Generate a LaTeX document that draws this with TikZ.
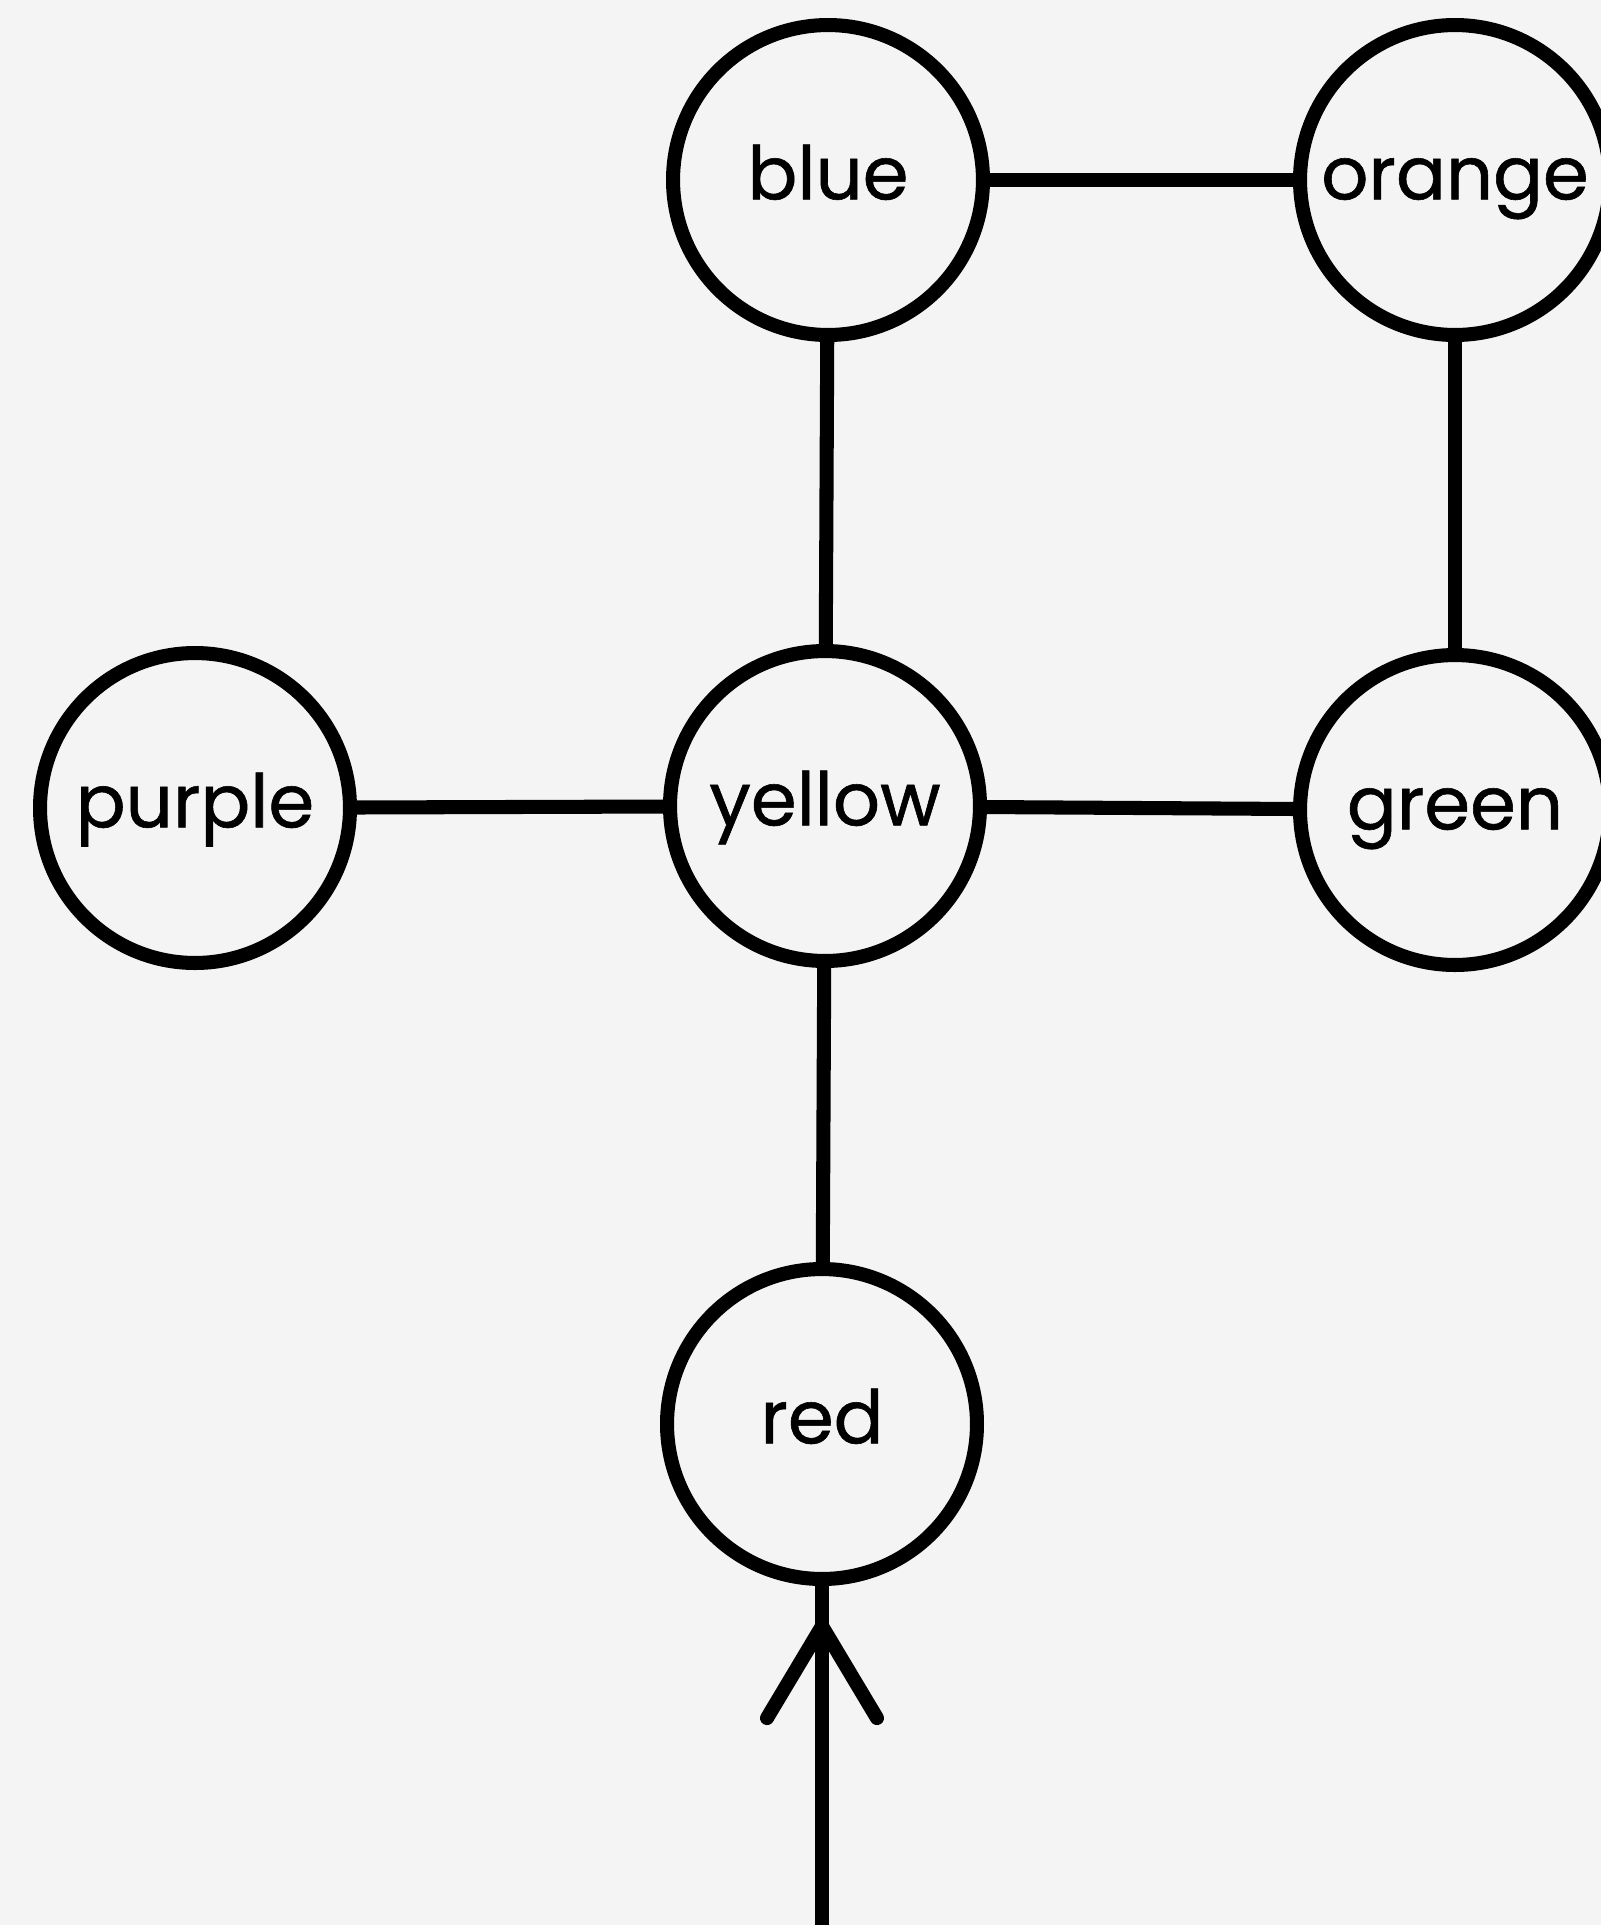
\documentclass[tikz,border=0pt]{standalone}
\usepackage{fontspec}
\setmainfont{Poppins}
\newfontfamily\labelfont{Poppins}[FakeBold=0.8]
\usetikzlibrary{decorations.markings}
\definecolor{paper}{RGB}{244,244,244}
\begin{document}
\begin{tikzpicture}[x=0.02cm,y=-0.02cm,
  vertex/.style={circle,draw=black,line width=8pt,minimum size=6.2cm,inner sep=0pt,
    font=\labelfont\fontsize{42}{50}\selectfont,text height=22pt,text depth=0pt},
  link/.style={line width=8pt},
  entry/.style={line width=8pt,postaction={decorate},
    decoration={markings,mark=at position 6.18cm with {
      \draw[line width=8pt,line cap=round,line join=miter] (-1.84cm,1.1cm) -- (0,0) -- (-1.84cm,-1.1cm);}}}]
\fill[paper] (0,0) rectangle (1601,1925);
\useasboundingbox (0,0) rectangle (1601,1925);
\clip (0,0) rectangle (1601,1925);

\node[vertex] (blue)   at (828,180)  {blue};
\node[vertex] (orange) at (1455,180) {orange};
\node[vertex] (purple) at (195,808)  {purple};
\node[vertex] (yellow) at (825,806)  {yellow};
\node[vertex] (green)  at (1455,810) {green};
\node[vertex] (red)    at (822,1424) {red};
\coordinate (in) at (822,1935);

\draw[link] (blue) -- (orange);
\draw[link] (blue) -- (yellow);
\draw[link] (orange) -- (green);
\draw[link] (purple) -- (yellow);
\draw[link] (yellow) -- (green);
\draw[link] (yellow) -- (red);
\draw[entry] (in) -- (red);
\end{tikzpicture}
\end{document}
